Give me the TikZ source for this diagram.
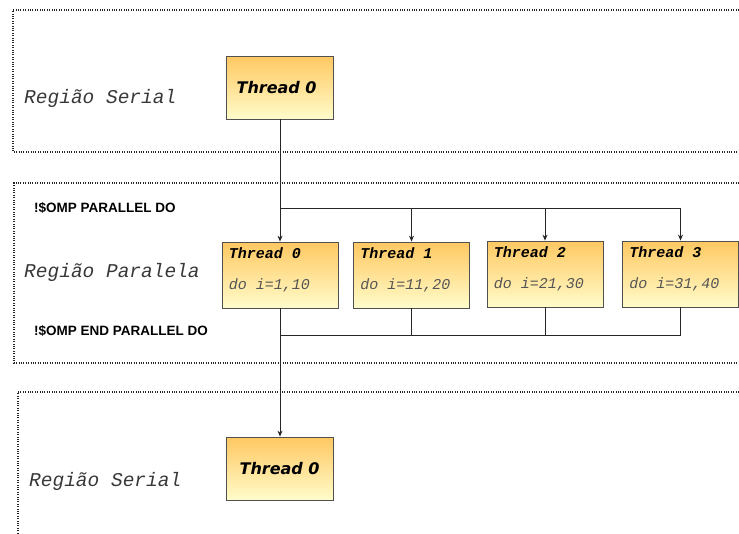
\documentclass[tikz,border=0pt]{standalone}
\usepackage{fontspec}
\setmainfont{Liberation Sans}
\setmonofont{Liberation Mono}
\newfontfamily\verdfont{DejaVu Sans}
\usetikzlibrary{arrows.meta, positioning}

\definecolor{boxtop}{HTML}{FFC862}
\definecolor{boxbot}{HTML}{FFFCCA}
\definecolor{boxedge}{HTML}{505050}
\definecolor{regtext}{HTML}{383838}
\definecolor{dotext}{HTML}{555555}

\tikzset{
  region/.style={draw=black!85, line width=1.1pt, dash pattern=on 1pt off 1.4pt},
  serialbox/.style={draw=boxedge, line width=0.8pt, top color=boxtop, bottom color=boxbot,
    minimum width=107pt, minimum height=63pt, inner sep=0pt},
  threadbox/.style={draw=boxedge, line width=0.8pt, top color=boxtop, bottom color=boxbot,
    minimum width=116pt, minimum height=66pt, inner sep=0pt},
  serialtxt/.style={font=\verdfont\fontsize{16}{18}\selectfont\bfseries\itshape},
  thrtxt/.style={anchor=west, inner sep=0pt, font=\ttfamily\fontsize{15}{17}\selectfont\bfseries\itshape},
  dotxt/.style={anchor=west, inner sep=0pt, text=dotext, font=\ttfamily\fontsize{15}{17}\selectfont\itshape},
  regtxt/.style={anchor=west, inner sep=0pt, text=regtext, font=\ttfamily\fontsize{19.5}{22}\selectfont\itshape},
  omptxt/.style={anchor=west, inner sep=0pt, font=\fontsize{13.5}{15}\selectfont\bfseries},
  link/.style={draw=black!85, line width=0.9pt},
  arrow/.style={link, -{Stealth[length=6pt, width=5pt]}}
}

\begin{document}
\begin{tikzpicture}[x=1pt, y=-1pt]
  \useasboundingbox (0,0) rectangle (739,533);

  % Regions
  \draw[region] (739,10) -- (13,10) -- (13,152) -- (739,152);
  \draw[region] (739,183) -- (14,183) -- (14,363) -- (739,363);
  \draw[region] (739,392) -- (18,392) -- (18,533);

  \node (regserial1) [regtxt] at (24,98) {Região Serial};
  \node (regpar) [regtxt] at (24,272) {Região Paralela};
  \node (regserial2) [regtxt] at (29,481) {Região Serial};

  \node (ompbegin) [omptxt] at (34,208) {!\$OMP PARALLEL DO};
  \node (ompend) [omptxt] at (34,331) {!\$OMP END PARALLEL DO};

  % Serial threads
  \node (t0start) [serialbox] at (280,87.5) {};
  \node (t0start label) [serialtxt, anchor=west] at ([xshift=7pt]t0start.west) {Thread 0};
  \node (t0end) [serialbox] at (280,468.5) {};
  \node (t0end label) [serialtxt, anchor=west] at ([xshift=10pt]t0end.west) {Thread 0};

  % Parallel threads
  \node (p0) [threadbox] at (280,275) {};
  \node (p1) [threadbox] at (411.5,275) {};
  \node (p2) [threadbox] at (545,274) {};
  \node (p3) [threadbox] at (680.5,274) {};

  \node (p0 name) [thrtxt] at ([xshift=7pt, yshift=-12pt]p0.north west) {Thread 0};
  \node (p0 loop) [dotxt] at ([xshift=7pt, yshift=-44pt]p0.north west) {do i=1,10};
  \node (p1 name) [thrtxt] at ([xshift=7pt, yshift=-12pt]p1.north west) {Thread 1};
  \node (p1 loop) [dotxt] at ([xshift=7pt, yshift=-44pt]p1.north west) {do i=11,20};
  \node (p2 name) [thrtxt] at ([xshift=7pt, yshift=-12pt]p2.north west) {Thread 2};
  \node (p2 loop) [dotxt] at ([xshift=7pt, yshift=-44pt]p2.north west) {do i=21,30};
  \node (p3 name) [thrtxt] at ([xshift=7pt, yshift=-12pt]p3.north west) {Thread 3};
  \node (p3 loop) [dotxt] at ([xshift=7pt, yshift=-44pt]p3.north west) {do i=31,40};

  % Fork and join
  \coordinate (fork) at (280,208);
  \coordinate (join) at (280,335);

  \draw[arrow] (t0start.south) -- (p0.north);
  \draw[link] (fork) -- (fork -| p3.north);
  \draw[arrow] (fork) -| (p1.north);
  \draw[arrow] (fork) -| (p2.north);
  \draw[arrow] (fork) -| (p3.north);

  \draw[link] (p1.south) |- (join);
  \draw[link] (p2.south) |- (join);
  \draw[link] (p3.south) |- (join);
  \draw[arrow] (p0.south) -- (t0end.north);

\end{tikzpicture}
\end{document}
